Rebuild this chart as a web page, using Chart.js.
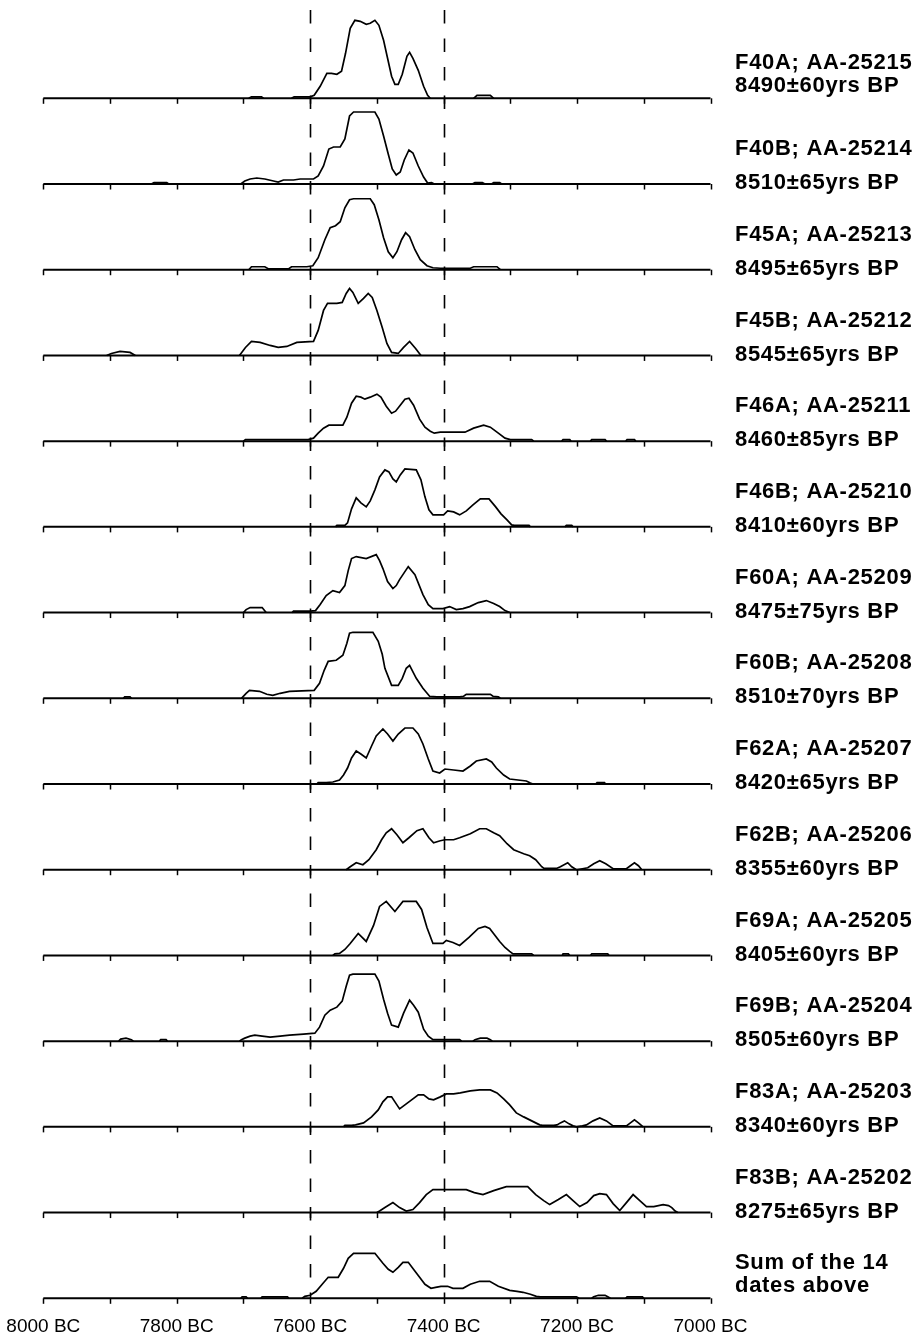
<!DOCTYPE html>
<html><head><meta charset="utf-8">
<style>html,body{margin:0;padding:0;background:#fff;}#wrap{width:917px;height:1338px;}</style>
<script src="https://cdn.jsdelivr.net/npm/chart.js@4.4.1/dist/chart.umd.min.js"></script>
</head><body><div id="wrap"><canvas id="c" width="917" height="1338" style="width:917px;height:1338px"></canvas></div>
<script>
// ---- DATA: [year BC, relative probability] ; null = gap ----
const f40a = [[7692,0],[7688,1.5],[7673,1.5],[7670,0],null,
 [7628,0],[7624,1.5],[7600,1.5],[7594,3],[7585,12],[7575,25],[7568,25],[7560,24],[7553,27],[7547,45],[7540,70],[7533,78],[7525,77],[7516,74],[7510,75],[7503,78],[7497,73],[7490,58],[7484,40],[7478,22],[7473,14],[7468,14],[7462,24],[7455,42],[7451,46],[7446,40],[7438,28],[7430,12],[7424,3],[7420,0],null,
 [7355,0],[7350,3],[7330,3],[7325,0]];
const f40b = [[7838,0],[7834,1.5],[7815,1.5],[7812,0],null,
 [7704,0],[7698,3],[7690,5],[7680,6],[7668,5],[7655,3],[7648,2],[7640,4],[7625,4],[7615,5],[7595,5],[7588,8],[7580,18],[7572,35],[7565,37],[7555,37],[7548,45],[7541,68],[7535,72],[7503,72],[7497,65],[7490,48],[7483,30],[7477,15],[7471,9],[7465,12],[7459,24],[7452,34],[7446,31],[7438,18],[7430,7],[7424,1],[7418,1.5],[7414,0],null,
 [7357,0],[7353,1.5],[7342,1.5],[7338,0],null,[7328,0],[7325,1.5],[7316,1.5],[7313,0]];
const f45a = [[7692,0],[7688,3],[7668,3],[7663,1],[7632,1],[7628,3],[7605,3],[7596,4],[7588,12],[7578,30],[7570,42],[7562,44],[7555,48],[7548,62],[7541,70],[7535,71],[7510,71],[7504,65],[7497,50],[7490,32],[7483,18],[7476,12],[7470,18],[7463,30],[7457,37],[7451,33],[7443,20],[7435,10],[7425,4],[7416,2],[7405,1.5],[7395,1.5],[7360,1.5],[7355,3],[7320,3],[7315,0]];
const f45b = [[7905,0],[7898,2],[7885,4],[7870,3],[7862,0],null,
 [7706,0],[7697,8],[7688,14],[7675,13],[7660,10],[7648,8],[7635,9],[7620,13],[7595,14],[7588,25],[7580,45],[7574,52],[7560,52],[7552,53],[7546,62],[7541,67],[7536,63],[7528,52],[7520,57],[7513,62],[7507,58],[7500,45],[7492,28],[7485,12],[7478,3],[7468,2],[7460,8],[7451,14],[7442,7],[7434,0]];
const f46a = [[7700,0],[7697,1.5],[7603,1.5],[7595,3],[7588,8],[7580,13],[7572,16],[7551,16],[7545,24],[7538,38],[7531,45],[7524,44],[7518,42],[7510,44],[7500,47],[7494,44],[7486,35],[7478,28],[7472,30],[7465,36],[7458,42],[7452,43],[7445,36],[7436,22],[7428,14],[7420,10],[7414,8],[7405,9],[7368,9],[7355,13],[7340,16],[7330,14],[7318,8],[7308,3],[7300,1.5],[7268,1.5],[7265,0],null,
 [7223,0],[7221,1.5],[7211,1.5],[7209,0],null,[7180,0],[7178,1.5],[7158,1.5],[7156,0],null,[7127,0],[7125,1.5],[7114,1.5],[7112,0]];
const f46b = [[7562,0],[7560,1.5],[7548,1.5],[7544,4],[7538,18],[7531,29],[7524,24],[7516,20],[7510,26],[7503,37],[7496,50],[7488,57],[7482,55],[7476,48],[7471,45],[7465,52],[7458,58],[7441,57],[7434,47],[7428,30],[7422,17],[7416,12],[7400,12],[7394,16],[7385,15],[7376,12],[7366,16],[7356,22],[7345,28],[7332,28],[7322,20],[7314,13],[7305,7],[7298,2],[7294,1.5],[7272,1.5],[7270,0],null,
 [7218,0],[7216,1.5],[7208,1.5],[7206,0]];
const f60a = [[7700,0],[7696,3],[7690,5],[7672,5],[7666,0],null,
 [7627,0],[7625,1.5],[7600,1.5],[7592,2],[7585,8],[7576,17],[7566,22],[7556,20],[7548,27],[7543,42],[7538,54],[7531,56],[7516,54],[7501,58],[7496,52],[7491,44],[7484,31],[7476,24],[7471,27],[7466,33],[7453,46],[7443,38],[7431,18],[7423,8],[7416,4],[7401,4],[7391,6],[7381,3],[7371,4],[7361,6],[7348,10],[7336,12],[7325,9],[7316,6],[7308,2],[7301,0]];
const f60b = [[7880,0],[7878,1.5],[7870,1.5],[7868,0],null,
 [7703,0],[7696,5],[7691,8],[7676,7],[7665,4],[7656,3],[7645,5],[7631,7],[7594,8],[7586,15],[7579,28],[7573,37],[7561,38],[7551,43],[7545,55],[7541,65],[7536,66],[7506,66],[7498,57],[7492,44],[7488,30],[7478,13],[7468,13],[7462,20],[7456,30],[7451,33],[7441,20],[7431,10],[7421,2],[7410,1.5],[7401,1.5],[7376,1.5],[7370,2],[7366,4],[7330,4],[7326,2],[7318,1.5],[7315,0]];
const f62a = [[7590,0],[7588,1.5],[7576,1.5],[7566,2],[7556,4],[7550,9],[7544,16],[7538,26],[7531,33],[7524,30],[7516,26],[7508,38],[7501,48],[7491,55],[7484,50],[7476,43],[7468,50],[7458,56],[7446,56],[7438,50],[7431,40],[7423,25],[7416,13],[7406,11],[7398,15],[7385,14],[7371,13],[7360,18],[7351,23],[7336,25],[7328,22],[7321,16],[7310,9],[7301,5],[7276,3],[7270,1],[7266,0],null,
 [7172,0],[7170,1.5],[7159,1.5],[7157,0]];
const f62b = [[7546,0],[7540,3],[7531,7],[7521,5],[7512,10],[7501,20],[7493,30],[7486,37],[7478,41],[7470,35],[7461,27],[7452,32],[7440,39],[7431,41],[7422,32],[7415,27],[7405,29],[7398,30],[7385,30],[7376,32],[7360,36],[7346,41],[7336,41],[7325,37],[7316,34],[7305,26],[7295,20],[7280,16],[7271,14],[7262,10],[7253,3],[7250,1.5],[7230,1.5],[7225,3],[7214,7],[7208,3],[7201,0],[7192,1],[7184,2],[7175,6],[7166,9],[7157,6],[7146,1],[7126,1],[7120,4],[7114,7],[7108,4],[7103,0]];
const f69a = [[7566,0],[7563,1.5],[7556,2],[7548,6],[7540,12],[7528,22],[7516,14],[7505,30],[7496,49],[7486,54],[7473,44],[7461,54],[7441,54],[7433,46],[7425,28],[7416,12],[7401,12],[7396,15],[7386,13],[7376,10],[7362,18],[7348,27],[7338,29],[7331,27],[7316,14],[7308,8],[7301,4],[7296,1.5],[7268,1.5],[7265,0],null,
 [7222,0],[7221,1.5],[7213,1.5],[7211,0],null,[7180,0],[7178,1.5],[7154,1.5],[7152,0]];
const f69b = [[7887,0],[7884,2],[7876,3],[7868,1.5],[7865,0],null,
 [7826,0],[7824,1.5],[7816,1.5],[7814,0],null,
 [7706,0],[7703,1.5],[7698,3],[7690,5],[7683,6],[7672,5],[7660,4],[7645,5],[7631,6],[7610,7],[7593,8],[7586,14],[7578,26],[7570,31],[7560,34],[7552,40],[7546,55],[7541,66],[7536,67],[7503,67],[7497,60],[7490,42],[7484,28],[7478,16],[7468,14],[7460,28],[7451,41],[7445,36],[7438,29],[7430,12],[7423,5],[7416,1.5],[7376,1.5],[7373,0],null,
 [7356,0],[7353,1.5],[7345,3],[7335,3],[7330,1.5],[7327,0]];
const f83a = [[7550,0],[7548,1.5],[7538,1.5],[7532,2],[7520,4],[7508,10],[7498,17],[7491,25],[7484,30],[7478,30],[7470,22],[7466,18],[7458,22],[7448,27],[7438,32],[7430,32],[7422,28],[7415,27],[7405,30],[7396,33],[7385,33],[7375,34],[7360,36],[7346,37],[7330,37],[7320,34],[7310,28],[7301,22],[7291,14],[7280,10],[7271,7],[7262,4],[7256,2],[7252,1.5],[7235,1.5],[7230,2],[7225,4],[7219,6],[7212,3],[7206,1],[7201,0],[7192,1],[7186,2],[7176,6],[7166,9],[7156,6],[7146,1],[7126,1],[7120,4],[7114,7],[7108,4],[7101,0]];
const f83b = [[7500,0],[7496,1.5],[7488,5],[7476,10],[7466,5],[7456,1.5],[7446,3],[7436,10],[7426,18],[7416,23],[7366,23],[7354,20],[7341,18],[7325,22],[7306,26],[7274,26],[7262,18],[7250,12],[7241,8],[7228,13],[7216,18],[7206,12],[7196,6],[7185,10],[7175,17],[7166,19],[7156,18],[7146,9],[7136,2],[7126,10],[7116,18],[7106,12],[7096,6],[7085,6],[7071,8],[7063,7],[7058,5],[7053,1.5],[7049,0]];
const sum14 = [[7704,0],[7702,1.5],[7696,1.5],[7694,0],null,
 [7674,0],[7672,1.5],[7634,1.5],[7632,0],null,
 [7612,0],[7608,2],[7600,3],[7591,7],[7582,14],[7573,21],[7558,21],[7550,30],[7543,40],[7535,45],[7516,45],[7503,45],[7497,40],[7491,35],[7483,29],[7476,26],[7468,31],[7461,36],[7453,36],[7444,28],[7436,21],[7428,14],[7419,10],[7412,11],[7404,12],[7394,12],[7386,10],[7371,10],[7360,14],[7346,17],[7331,17],[7318,12],[7301,8],[7290,7],[7281,6],[7270,4],[7261,2],[7255,1.5],[7201,1.5],[7197,0],null,
 [7178,0],[7175,1.5],[7168,3],[7158,3],[7154,1.5],[7150,0],null,
 [7127,0],[7125,1.5],[7102,1.5],[7100,0]];

const rows = [f40a,f40b,f45a,f45b,f46a,f46b,f60a,f60b,f62a,f62b,f69a,f69b,f83a,f83b,sum14];
const labelLine1 = ['F40A; AA-25215','F40B; AA-25214','F45A; AA-25213','F45B; AA-25212','F46A; AA-25211','F46B; AA-25210','F60A; AA-25209','F60B; AA-25208','F62A; AA-25207','F62B; AA-25206','F69A; AA-25205','F69B; AA-25204','F83A; AA-25203','F83B; AA-25202','Sum of the 14'];
const labelLine2 = ['8490±60yrs BP','8510±65yrs BP','8495±65yrs BP','8545±65yrs BP','8460±85yrs BP','8410±60yrs BP','8475±75yrs BP','8510±70yrs BP','8420±65yrs BP','8355±60yrs BP','8405±60yrs BP','8505±60yrs BP','8340±60yrs BP','8275±65yrs BP','dates above'];
const tickYears = [8000,7800,7600,7400,7200,7000];
const minorTickYears = [8000,7900,7800,7700,7600,7500,7400,7300,7200,7100,7000];
const dashYears = [7600,7400];

// ---- layout / build ----
const ROW = 1200/14;
const N = rows.length;
const base = i => (N-1-i)*ROW;

const datasets = rows.map((r,i) => {
  const pts = []; let lastX = 8000;
  r.forEach(p => {
    if (p === null) pts.push({x:lastX, y:null});
    else { pts.push({x:p[0], y:base(i)+p[1]}); lastX = p[0]; }
  });
  return {data:pts, borderColor:'#000', borderWidth:1.7, pointRadius:0, fill:false, tension:0, spanGaps:false};
});

const FONT = '"Liberation Sans", Arial, Helvetica, sans-serif';

const decor = {
  id:'decor',
  beforeDatasetsDraw(chart){
    const {ctx, scales:{x,y}, chartArea} = chart;
    ctx.save();
    ctx.strokeStyle = '#000';
    ctx.lineWidth = 1.6;
    ctx.setLineDash([13.5,15]);
    dashYears.forEach(yr => {
      const px = Math.round(x.getPixelForValue(yr)) + 0.5;
      ctx.beginPath(); ctx.moveTo(px, chartArea.top); ctx.lineTo(px, y.getPixelForValue(0)); ctx.stroke();
    });
    ctx.setLineDash([]);
    for (let i=0;i<N;i++){
      const by = y.getPixelForValue(base(i));
      ctx.lineWidth = 2;
      ctx.beginPath(); ctx.moveTo(x.getPixelForValue(8000), by); ctx.lineTo(x.getPixelForValue(7000), by); ctx.stroke();
      ctx.lineWidth = 1.5;
      minorTickYears.forEach(yr => {
        const px = Math.round(x.getPixelForValue(yr)) + 0.5;
        ctx.beginPath(); ctx.moveTo(px, by); ctx.lineTo(px, by+5.5); ctx.stroke();
      });
    }
    ctx.restore();
  },
  afterDatasetsDraw(chart){
    const {ctx, scales:{y}} = chart;
    ctx.save();
    ctx.fillStyle = '#000';
    ctx.font = 'bold 22px ' + FONT;
    try { ctx.letterSpacing = '0.7px'; } catch(e) {}
    ctx.textAlign = 'left'; ctx.textBaseline = 'middle';
    for (let i=0;i<N;i++){
      const by = y.getPixelForValue(base(i));
      const tight = (i===0 || i===N-1);
      ctx.fillText(labelLine1[i], 735, by - 35);
      ctx.fillText(labelLine2[i], 735, by - (tight ? 12 : 1));
    }
    ctx.restore();
  }
};

new Chart(document.getElementById('c'), {
  type:'line',
  data:{datasets},
  options:{
    responsive:false, animation:false, devicePixelRatio:1,
    layout:{padding:{left:43.3, right:206.5, top:10, bottom:0}},
    plugins:{legend:{display:false}, tooltip:{enabled:false}},
    scales:{
      x:{type:'linear', min:7000, max:8000, reverse:true,
        grid:{display:false, drawTicks:false}, border:{display:false},
        afterBuildTicks: s => { s.ticks = tickYears.map(v => ({value:v})); },
        afterFit: s => { s.height = 39.7; s.paddingLeft = 0; s.paddingRight = 0; },
        ticks:{padding:17, color:'#000', font:{family:FONT, size:19}, maxRotation:0, autoSkip:false,
          callback: v => v + ' BC'}},
      y:{type:'linear', display:false, min:0, max:14*ROW + 88.3}
    }
  },
  plugins:[decor]
});
</script></body></html>
